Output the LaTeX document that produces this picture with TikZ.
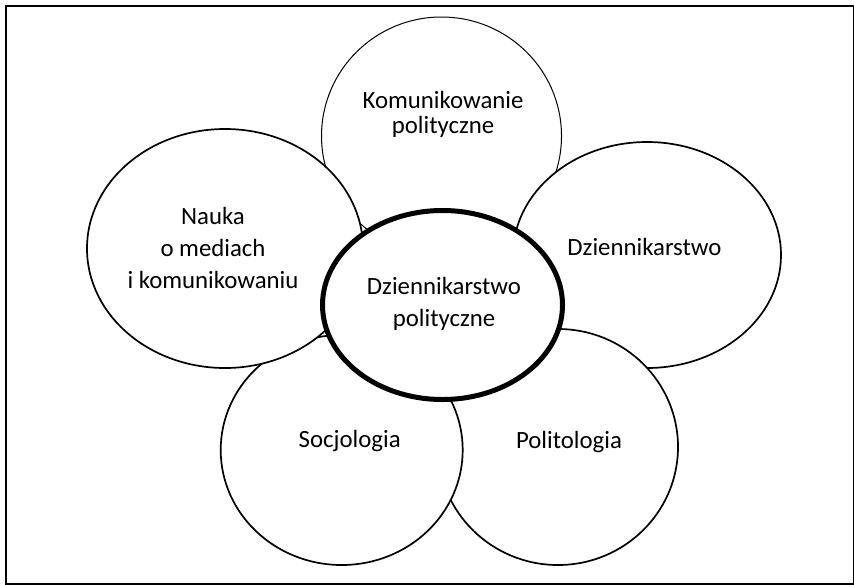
\documentclass[tikz,border=0pt]{standalone}
\usepackage{fontspec}
\setmainfont{Carlito}
\usetikzlibrary{shapes.geometric}

\begin{document}
\begin{tikzpicture}[x=0.5pt, y=-0.5pt,
  petal/.style={draw, ellipse, fill=white, line width=0.85pt, inner sep=0pt},
  core/.style={petal, line width=2.5pt},
  lbl/.style={align=center, inner sep=0pt, font=\fontsize{12.4}{16}\selectfont}]
\useasboundingbox (0,0) rectangle (854,584);
\draw[line width=1pt] (5.5,5.5) rectangle (854,584);
% petals, back to front
\node[petal, line width=0.5pt, minimum width=120pt, minimum height=119pt] (kom) at (441.5,136) {};
\node[petal, minimum width=134pt, minimum height=113pt] (dzien) at (647,255) {};
\node[petal, minimum width=120pt, minimum height=118pt] (polit) at (558,447) {};
\node[petal, minimum width=121pt, minimum height=115pt] (socjo) at (341.7,450) {};
\node[petal, minimum width=138pt, minimum height=119.5pt] (nauka) at (225,248.5) {};
\node[core, minimum width=120pt, minimum height=94.5pt] (core) at (442.5,305) {};
% labels
\node[lbl, font=\fontsize{12.4}{12.5}\selectfont] (kom-t) at (443,114) {Komunikowanie\\polityczne};
\node[lbl] (dzien-t) at (644.5,247) {Dziennikarstwo};
\node[lbl] (polit-t) at (569,442) {Politologia};
\node[lbl] (socjo-t) at (349.7,441) {Socjologia};
\node[lbl] (nauka-t) at (213,248) {Nauka\\o mediach\\i komunikowaniu};
\node[lbl] (core-t) at (444,304) {Dziennikarstwo\\polityczne};
\end{tikzpicture}
\end{document}
